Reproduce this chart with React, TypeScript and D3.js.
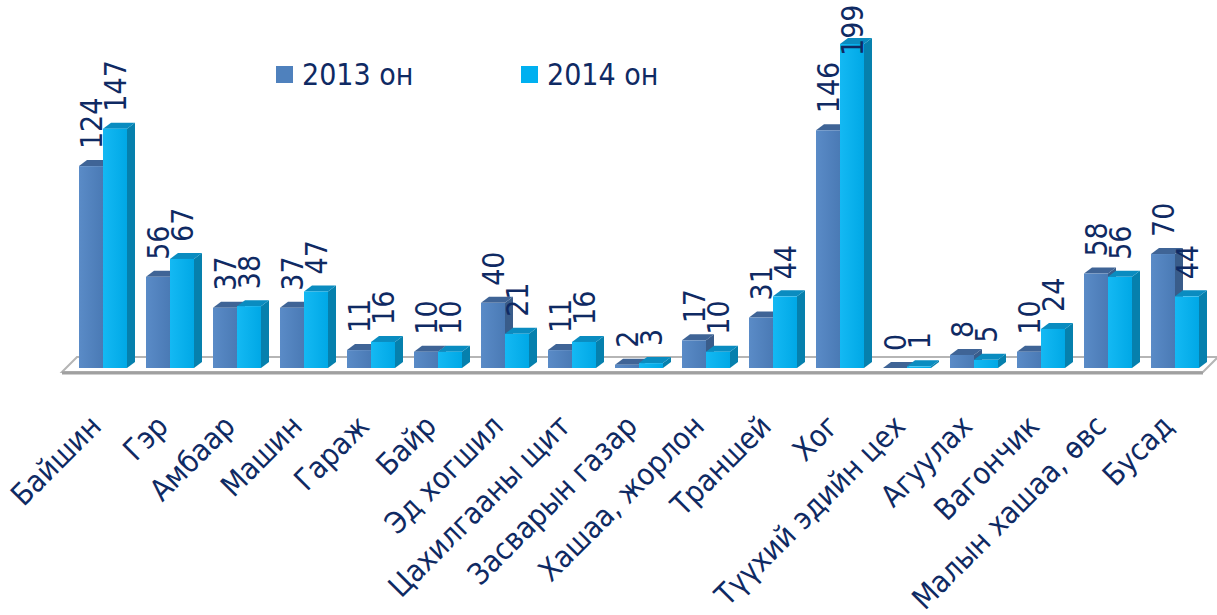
import React from "react";
import * as d3 from "d3";

const categories = [
  "Байшин", "Гэр", "Амбаар", "Машин", "Гараж", "Байр", "Эд хогшил",
  "Цахилгааны щит", "Засварын газар", "Хашаа, жорлон", "Траншей", "Хог",
  "Түүхий эдийн цех", "Агуулах", "Вагончик", "Малын хашаа, өвс", "Бусад",
];
const values2013 = [124, 56, 37, 37, 11, 10, 40, 11, 2, 17, 31, 146, 0, 8, 10, 58, 70];
const values2014 = [147, 67, 38, 47, 16, 10, 21, 16, 3, 10, 44, 199, 1, 5, 24, 56, 44];
const seriesNames = ["2013 он", "2014 он"];

const W = 1217;
const H = 615;
const FONT = "'DejaVu Sans Condensed', 'DejaVu Sans', sans-serif";
const TEXT = "#0f2a63";

const palette = [
  { front0: "#5a8bc7", front1: "#4a7ab5", top: "#3f6496", side: "#395c8a", legend: "#4f81bd" },
  { front0: "#14b9f3", front1: "#00a8e6", top: "#0a8cc0", side: "#0680ad", legend: "#00b0f0" },
];

export default function App() {
  const baseY = 368;
  const x = d3.scaleBand<string>().domain(categories).range([69.5, 69.5 + 67 * categories.length]);
  const inner = d3.scaleBand<number>().domain([0, 1]).range([0, 48]);
  const y = d3.scaleLinear().domain([0, 199]).range([baseY, 44]);
  const dx = 8, dy = -6;
  const series = [values2013, values2014];

  const bars: JSX.Element[] = [];
  const labels: JSX.Element[] = [];
  categories.forEach((c, i) => {
    const start = (x(c) ?? 0) + (x.bandwidth() - 48) / 2;
    series.forEach((vals, s) => {
      const v = vals[i];
      const x0 = start + (inner(s) ?? 0);
      const w = inner.bandwidth();
      const yt = y(v);
      const p = palette[s];
      bars.push(
        <g key={`b${i}-${s}`}>
          <polygon
            points={`${x0 + w},${yt} ${x0 + w + dx},${yt + dy} ${x0 + w + dx},${baseY + dy} ${x0 + w},${baseY}`}
            fill={p.side}
          />
          <polygon
            points={`${x0},${yt} ${x0 + dx},${yt + dy} ${x0 + w + dx},${yt + dy} ${x0 + w},${yt}`}
            fill={p.top}
          />
          <rect x={x0} y={yt} width={w} height={baseY - yt} fill={`url(#gf${s})`} />
        </g>
      );
      const txt = String(v);
      const len = txt.length * 17;
      let anchorY = yt - 17;
      if (anchorY - len < 5) anchorY = 5 + len;
      const lx = x0 + w / 2 + 11;
      labels.push(
        <text
          key={`l${i}-${s}`}
          transform={`translate(${lx},${anchorY}) rotate(-90)`}
          fontSize={30}
          fontFamily={FONT}
          fill={TEXT}
          textAnchor="start"
        >
          {txt}
        </text>
      );
    });
  });

  const floorL = 62, floorR = 1203, floorFront = 372, floorBack = 357;

  return (
    <svg width={W} height={H} style={{ position: "absolute", left: 0, top: 0, background: "#fff" }}>
      <defs>
        {palette.map((p, s) => (
          <linearGradient key={s} id={`gf${s}`} x1="0" x2="1" y1="0" y2="0">
            <stop offset="0" stopColor={p.front0} />
            <stop offset="1" stopColor={p.front1} />
          </linearGradient>
        ))}
      </defs>
      <polygon
        points={`${floorL},${floorFront} ${floorL + 15},${floorBack} ${floorR + 15},${floorBack} ${floorR},${floorFront}`}
        fill="#ffffff"
        stroke="#b5b5b5"
        strokeWidth={2}
      />
      <line x1={floorL} x2={floorR} y1={floorFront + 1} y2={floorFront + 1} stroke="#a0a0a0" strokeWidth={3} />
      {bars}
      {labels}
      {categories.map((c, i) => {
        const cx = (x(c) ?? 0) + x.bandwidth() / 2;
        return (
          <text
            key={`c${i}`}
            transform={`translate(${cx},${428}) rotate(-45)`}
            fontSize={30}
            fontFamily={FONT}
            fill={TEXT}
            textAnchor="end"
          >
            {c}
          </text>
        );
      })}
      {seriesNames.map((n, s) => {
        const lx = [276, 521][s];
        return (
          <g key={`lg${s}`}>
            <rect x={lx} y={66} width={17} height={17} fill={palette[s].legend} />
            <text x={lx + 26} y={85} fontSize={30} fontFamily={FONT} fill={TEXT}>
              {n}
            </text>
          </g>
        );
      })}
    </svg>
  );
}
